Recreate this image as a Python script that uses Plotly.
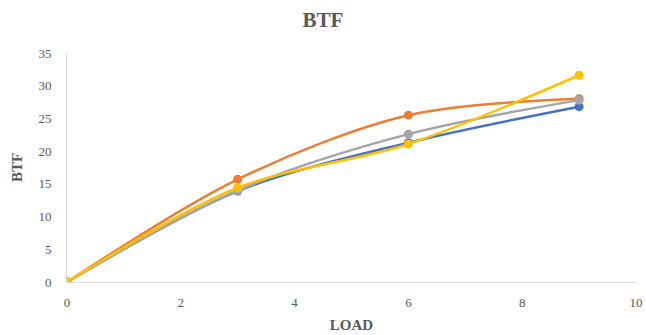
import plotly.graph_objects as go

# Load steps and brake thermal efficiency readings for four fuels
load = [0, 3, 6, 9]
btf_blue = [0, 13.9, 21.3, 26.8]
btf_orange = [0, 15.7, 25.5, 28.0]
btf_gray = [0, 14.0, 22.6, 27.8]
btf_yellow = [0, 14.4, 21.1, 31.6]

x_ticks = [0, 2, 4, 6, 8, 10]
y_ticks = [0, 5, 10, 15, 20, 25, 30, 35]

series = [
    (btf_blue, "#4472C4"),
    (btf_orange, "#ED7D31"),
    (btf_gray, "#A5A5A5"),
    (btf_yellow, "#FFC000"),
]

fig = go.Figure()
for values, color in series:
    fig.add_trace(go.Scatter(
        x=load, y=values, mode="lines+markers",
        line=dict(color=color, width=2.5, shape="spline", smoothing=0.9),
        marker=dict(color=color, size=9),
        showlegend=False,
    ))

serif = "Liberation Serif, Times New Roman, serif"
fig.update_layout(
    width=646, height=335,
    margin=dict(l=67, r=10, t=53, b=53),
    paper_bgcolor="white", plot_bgcolor="white",
    font=dict(family=serif, color="#595959", size=13),
    title=dict(text="<b>BTF</b>", x=0.5, xanchor="center", y=0.94, yanchor="middle",
               font=dict(family=serif, size=21, color="#595959")),
)
fig.update_xaxes(
    range=[0, 10], tickvals=x_ticks, showgrid=False, zeroline=False,
    showline=True, linecolor="#d9d9d9", linewidth=1, automargin=False,
    ticks="", ticklabelstandoff=8,
    tickfont=dict(family=serif, size=13, color="#595959"),
    title=dict(text="<b>LOAD</b>", font=dict(family=serif, size=15, color="#595959"), standoff=10),
)
fig.update_yaxes(
    range=[0, 35], tickvals=y_ticks, showgrid=False, zeroline=False,
    showline=True, linecolor="#d9d9d9", linewidth=1, automargin=False,
    ticks="", ticklabelstandoff=12,
    tickfont=dict(family=serif, size=13, color="#595959"),
    title=dict(text="<b>BTF</b>", font=dict(family=serif, size=15, color="#595959"), standoff=12),
)

fig.write_html("out.html")
